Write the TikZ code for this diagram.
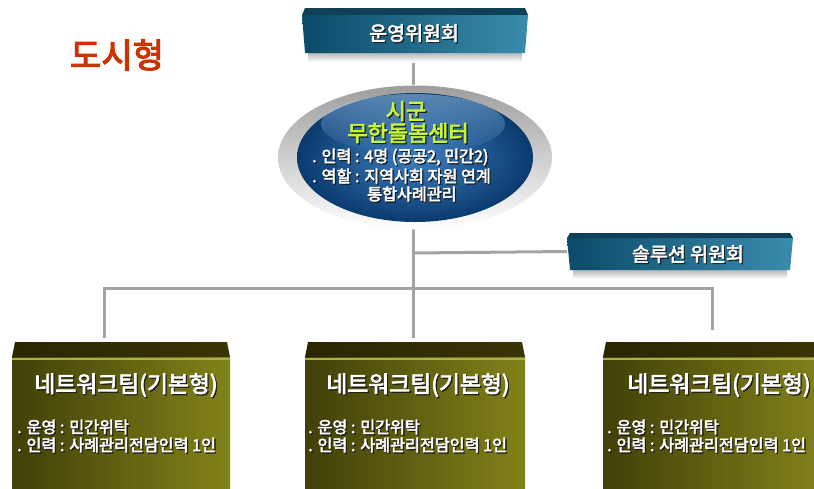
\documentclass[tikz,border=0pt]{standalone}
\usepackage{fontspec}
\setmainfont{Noto Sans CJK KR}[FakeBold=3.2]
\usetikzlibrary{calc,fadings,shapes.geometric}
\definecolor{titlered}{HTML}{CC3300}
\definecolor{limec}{HTML}{C6F53A}
\definecolor{tealL}{HTML}{0B4A68}
\definecolor{tealR}{HTML}{3A8CAD}
\definecolor{tealTop}{HTML}{0F4058}
\definecolor{oliveL}{HTML}{404008}
\definecolor{oliveR}{HTML}{82821A}
\definecolor{oliveTopL}{HTML}{2A2600}
\definecolor{oliveTopR}{HTML}{3A3506}
\definecolor{oliveLine}{HTML}{A8B048}
\definecolor{connc}{HTML}{A3A3A3}
\definecolor{blueIn}{HTML}{3D7FBF}
\definecolor{blueOut}{HTML}{0A3A6E}
\definecolor{blueHi}{HTML}{9CC8EC}
\tikzfading[name=hlfade, top color=transparent!0, bottom color=transparent!100]
\newcommand\shtxt[4]{%
  \node[#3,text=black!90,opacity=.85] at ($(#2)+(1.3,1.3)$) {#4};
  \node[#3] (#1) at (#2) {#4};}
\newcommand\tealbox[5]{%
  \shade[top color=black!28,bottom color=white] (#1+6,#5) rectangle (#2-6,#5+9);
  \fill[tealTop] (#1+3,#3) -- (#2-3,#3) -- (#2,#4) -- (#1,#4) -- cycle;
  \shade[left color=tealL,right color=tealR] (#1,#4) -- (#2,#4) -- (#2-3,#5) -- (#1+3,#5) -- cycle;}
\newcommand\netbox[2]{%
  \shade[left color=oliveTopL,right color=oliveTopR] (#1+3,342) -- (#2-3,342) -- (#2,357) -- (#1,357) -- cycle;
  \shade[left color=oliveL,right color=oliveR] (#1,357) rectangle (#2,490);
  \draw[oliveLine, line width=2.5pt] (#1,359) -- (#2,359);}
\begin{document}
\begin{tikzpicture}[x=1pt,y=-1pt,
  lbl/.style={inner sep=0pt, text=white, font=\fontsize{19.5}{22}\selectfont},
  ttl/.style={inner sep=0pt, text=limec, font=\fontsize{22}{25}\selectfont},
  bul/.style={inner sep=0pt, text=white, anchor=west, font=\fontsize{16.2}{17}\selectfont},
  nettl/.style={inner sep=0pt, text=white, font=\fontsize{22.8}{25}\selectfont},
  netbul/.style={inner sep=0pt, text=white, anchor=west, font=\fontsize{16.2}{18}\selectfont},
  conn/.style={draw=connc, line width=3pt},
  place/.style={inner sep=0pt, minimum width=#1}]
\useasboundingbox (0,0) rectangle (814,488);
% anchor nodes
\node[place=226pt, minimum height=45pt] (unyeong) at (415,30.5) {};
\node[place=226pt, minimum height=37pt] (sol) at (680,251.5) {};
\node[ellipse, place=274pt, minimum height=144pt] (ell) at (415,157.5) {};
\node[place=218pt, minimum height=146pt] (net1) at (121,415) {};
\node[place=220pt, minimum height=146pt] (net2) at (415,415) {};
\node[place=220pt, minimum height=146pt] (net3) at (713,415) {};
\coordinate (etop) at (413,60);
\coordinate (ebot) at (413,220);
\coordinate (br) at (413,253);
\coordinate (h1) at (104,288);
\coordinate (h2) at (413,288);
\coordinate (h3) at (712,288);
\coordinate (d1) at (104,338);
\coordinate (d2) at (413,338);
\coordinate (d3) at (712,330);
% connectors
\draw[conn] (unyeong.south -| etop) -- (etop) -- (ell.north -| etop);
\draw[conn] (ebot) -- (d2);
\draw[conn] (br) -- (sol.west);
\draw[conn] (d1) -- (h1) -- (h3) -- (d3);
% title
\node[inner sep=0pt, text=titlered, font=\fontsize{34}{38}\selectfont] (title) at (117,55) {도시형};
% top boxes
\tealbox{302}{528}{8}{15}{53}
\shtxt{t1}{414,33}{lbl}{운영위원회}
\tealbox{567}{793}{233}{238}{270}
\shtxt{t2}{688,254}{lbl}{솔루션 위원회}
% ellipse
\shade[top color=black!38, bottom color=white] (ell.center) ellipse [x radius=137pt, y radius=72pt];
\shade[inner color=blueIn, outer color=blueOut] (415,157.5) ellipse [x radius=118pt, y radius=64.5pt];
\fill[blueHi, opacity=.55, path fading=hlfade] (413,124) ellipse [x radius=92pt, y radius=30pt];
\shtxt{e1}{406,111}{ttl}{시군}
\shtxt{e2}{408,133}{ttl}{무한돌봄센터}
\shtxt{e3}{312,157}{bul}{. 인력 : 4명 (공공2, 민간2)}
\shtxt{e4}{312,176}{bul}{. 역할 : 지역사회 자원 연계}
\shtxt{e5}{367,194}{bul}{통합사례관리}
% network boxes
\netbox{12}{230}
\netbox{305}{525}
\netbox{603}{823}
\shtxt{n1}{126,385}{nettl}{네트워크팀(기본형)}
\shtxt{n1a}{17,427}{netbul}{. 운영 : 민간위탁}
\shtxt{n1b}{17,445}{netbul}{. 인력 : 사례관리전담인력 1인}
\shtxt{n2}{418,385}{nettl}{네트워크팀(기본형)}
\shtxt{n2a}{308,427}{netbul}{. 운영 : 민간위탁}
\shtxt{n2b}{308,445}{netbul}{. 인력 : 사례관리전담인력 1인}
\shtxt{n3}{719,385}{nettl}{네트워크팀(기본형)}
\shtxt{n3a}{607,427}{netbul}{. 운영 : 민간위탁}
\shtxt{n3b}{607,445}{netbul}{. 인력 : 사례관리전담인력 1인}
\end{tikzpicture}
\end{document}
